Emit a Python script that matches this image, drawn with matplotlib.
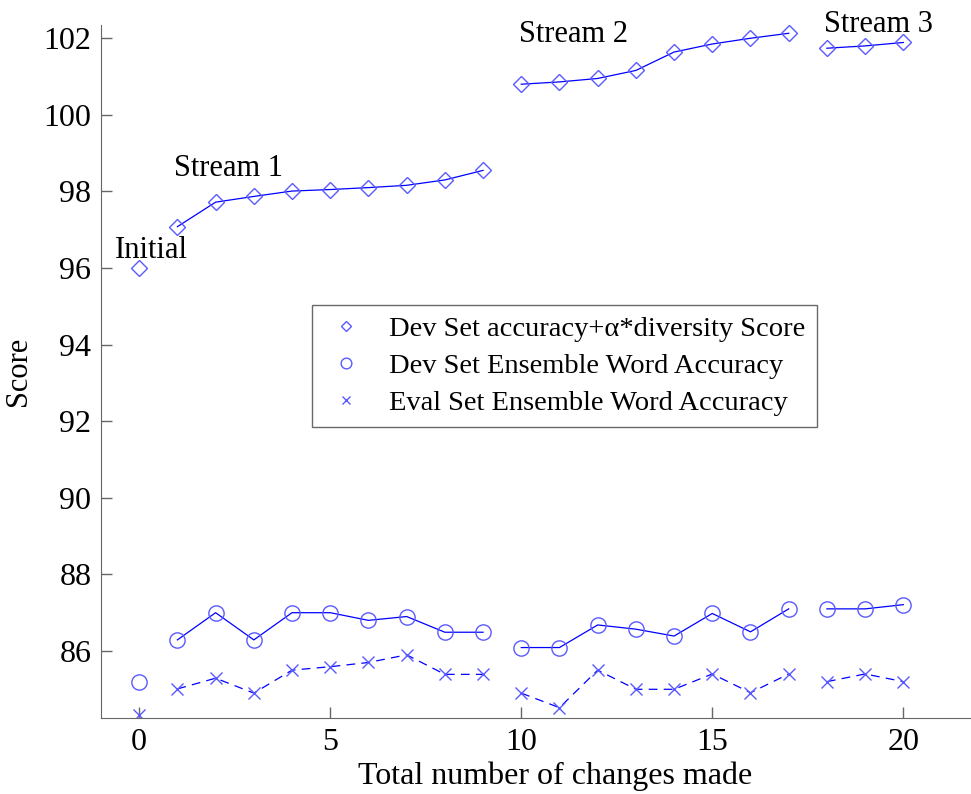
import matplotlib
matplotlib.use("Agg")
import matplotlib.pyplot as plt
import numpy as np

# changes made (x) and the three series, split into the streams
changes = list(range(21))
dev_score = [96.0, 97.08, 97.72, 97.87, 98.01, 98.05, 98.1, 98.16, 98.3, 98.55,
             100.8, 100.86, 100.95, 101.16, 101.64, 101.85, 102.0, 102.13,
             101.74, 101.8, 101.89]
dev_acc = [85.2, 86.29, 87.0, 86.29, 87.0, 87.0, 86.8, 86.9, 86.49, 86.49,
           86.09, 86.09, 86.68, 86.57, 86.39, 86.98, 86.5, 87.1,
           87.1, 87.1, 87.21]
eval_acc = [84.33, 85.01, 85.29, 84.9, 85.5, 85.59, 85.7, 85.9, 85.39, 85.39,
            84.9, 84.52, 85.5, 85.0, 85.0, 85.4, 84.91, 85.4,
            85.2, 85.4, 85.2]
# index ranges of each segment (initial point, stream 1, 2, 3)
segments = [(0, 1), (1, 10), (10, 18), (18, 21)]
labels = ["Dev Set accuracy+\u03b1*diversity Score",
          "Dev Set Ensemble Word Accuracy",
          "Eval Set Ensemble Word Accuracy"]
annotations = [("Initial", 0.33, 96.27), ("Stream 1", 2.35, 98.41),
               ("Stream 2", 11.37, 101.89), ("Stream 3", 19.36, 102.17)]

plt.rcParams["font.family"] = ["Liberation Serif", "DejaVu Serif"]

fig = plt.figure(figsize=(9.71, 7.94), dpi=100)
ax = fig.add_axes([0.104, 0.0957, 0.905, 0.873])

blue = "#0000ff"
mblue = "#5a5aff"
x = np.array(changes)
series = [(dev_score, "D", "-", 8), (dev_acc, "o", "-", 11), (eval_acc, "x", "--", 9)]
for i, (vals, mk, ls, ms) in enumerate(series):
    vals = np.array(vals)
    for a, b in segments:
        ax.plot(x[a:b], vals[a:b], color=blue, lw=0.9, ls=ls,
                marker=mk, ms=ms, mfc="none", mec=mblue, mew=1.0,
                label=labels[i] if a == 0 else None,
                dashes=(7, 5) if ls == "--" else (None, None))

for txt, xx, yy in annotations:
    ax.text(xx, yy, txt, ha="center", va="baseline", fontsize=22)

ax.set_xlim(-1, 22)
ax.set_ylim(84.25, 102.35)
ax.set_xticks([0, 5, 10, 15, 20])
ax.set_yticks(np.arange(86, 103, 2))
ax.tick_params(direction="in", length=8, width=1, color="#666666", pad=7,
               labelsize=23)
ax.spines["top"].set_visible(False)
ax.spines["right"].set_visible(False)
for s in ("left", "bottom"):
    ax.spines[s].set_color("#666666")
ax.set_xlabel("Total number of changes made", fontsize=23)
ax.set_ylabel("Score", fontsize=22)
ax.xaxis.set_label_coords(0.517, -0.063)
ax.yaxis.set_label_coords(-0.077, 0.5)

leg = ax.legend(loc="upper left", bbox_to_anchor=(312 / 971, 1 - 305 / 794),
                bbox_transform=fig.transFigure, borderaxespad=0, fontsize=20.5,
                frameon=True, fancybox=False, edgecolor="#444444",
                handlelength=1.6, handletextpad=0.7, markerscale=0.7,
                borderpad=0.4, labelspacing=0.38)
leg.get_frame().set_linewidth(1.0)
for h in leg.legend_handles:
    h.set_linestyle("none")

fig.savefig("out.png", dpi=100)
